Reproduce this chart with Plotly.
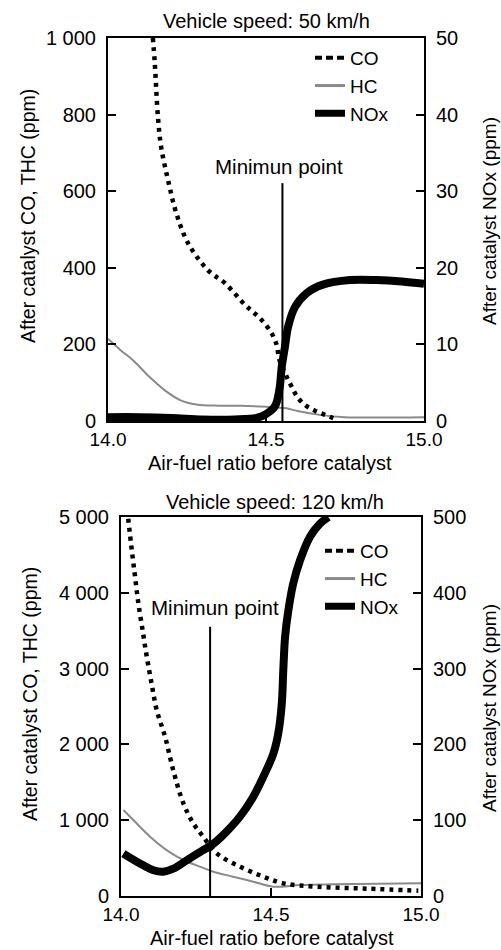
import plotly.graph_objects as go

# ---------------- data: vehicle speed 50 km/h ----------------
co50_afr = [14.142, 14.148, 14.158, 14.168, 14.19, 14.216, 14.253, 14.316, 14.37, 14.434, 14.46,
            14.486, 14.518, 14.534, 14.541, 14.552, 14.565, 14.581, 14.599, 14.623, 14.655, 14.687, 14.72]
co50 = [1000, 935, 794, 716, 629, 543, 465, 394, 360, 303, 284,
        264, 229, 198, 164, 140, 116, 90, 63, 42, 27, 16, 5]

hc50_afr = [14.0, 14.04, 14.08, 14.13, 14.18, 14.23, 14.28, 14.35, 14.42, 14.5, 14.55, 14.565,
            14.6, 14.67, 14.75, 14.85, 15.0]
hc50 = [215, 185, 158, 116, 80, 54, 43, 40, 40, 37, 34, 33, 26, 16, 10, 9, 10]

nox50_afr = [14.0, 14.1, 14.2, 14.3, 14.4, 14.47, 14.5, 14.528, 14.542, 14.55, 14.56, 14.57,
             14.592, 14.629, 14.68, 14.766, 14.85, 14.93, 15.0]
nox50 = [0.5, 0.5, 0.4, 0.2, 0.2, 0.4, 0.9, 1.9, 4.0, 7.1, 9.7, 12.3,
         14.9, 16.7, 17.8, 18.4, 18.4, 18.2, 17.9]

min50_afr = 14.552
min50_top = 621

# ---------------- data: vehicle speed 120 km/h ----------------
co120_afr = [14.024, 14.036, 14.047, 14.058, 14.072, 14.086, 14.102, 14.119, 14.147, 14.174,
             14.208, 14.241, 14.274, 14.319, 14.397, 14.474, 14.541, 14.652, 14.819, 14.991]
co120 = [4978, 4561, 4209, 3858, 3506, 3155, 2803, 2452, 2100, 1661,
         1221, 958, 782, 562, 387, 255, 167, 123, 97, 70]

hc120_afr = [14.008, 14.041, 14.097, 14.152, 14.208, 14.263, 14.308, 14.374, 14.441, 14.508,
             14.597, 14.708, 15.0]
hc120 = [1134, 1002, 782, 606, 475, 387, 321, 255, 189, 123, 145, 154, 167]

nox120_afr = [14.008, 14.063, 14.108, 14.141, 14.174, 14.219, 14.263, 14.308, 14.352, 14.397,
              14.441, 14.474, 14.508, 14.524, 14.536, 14.541, 14.547, 14.558, 14.574, 14.597,
              14.63, 14.663, 14.691]
nox120 = [56, 43, 34, 32, 36, 47, 58, 69, 85, 105,
          131, 157, 188, 214, 254, 298, 342, 377, 412, 443,
          474, 491, 500]

min120_afr = 14.297
min120_top = 3553

x_ticks = [14.0, 14.5, 15.0]
x_ticktext = ["14.0", "14.5", "15.0"]
y50_ticks = [0, 200, 400, 600, 800, 1000]
y50_text = ["0", "200", "400", "600", "800", "1 000"]
y50r_ticks = [0, 10, 20, 30, 40, 50]
y120_ticks = [0, 1000, 2000, 3000, 4000, 5000]
y120_text = ["0", "1 000", "2 000", "3 000", "4 000", "5 000"]
y120r_ticks = [0, 100, 200, 300, 400, 500]

# ---------------- figure ----------------
W, H = 501, 950
FONT = "Liberation Sans, Arial, sans-serif"
TICKSIZE = 20


def px_x(p):
    return p / W


def px_y(p):
    return 1 - p / H


fig = go.Figure()

CO_LINE = dict(color="black", width=4.5, dash="4px,5px")
HC_LINE = dict(color="#8a8a8a", width=2)
NOX_LINE = dict(color="black", width=8)

panels = [
    dict(co=(co50_afr, co50), hc=(hc50_afr, hc50), nox=(nox50_afr, nox50),
         xa="x", ya="y", yr="y2", legend="legend"),
    dict(co=(co120_afr, co120), hc=(hc120_afr, hc120), nox=(nox120_afr, nox120),
         xa="x2", ya="y3", yr="y4", legend="legend2"),
]

for p in panels:
    fig.add_trace(go.Scatter(x=p["hc"][0], y=p["hc"][1], mode="lines", line=HC_LINE,
                             xaxis=p["xa"], yaxis=p["ya"], showlegend=False, line_shape="spline"))
    fig.add_trace(go.Scatter(x=p["nox"][0], y=p["nox"][1], mode="lines", line=NOX_LINE,
                             xaxis=p["xa"], yaxis=p["yr"], showlegend=False, line_shape="spline"))
    fig.add_trace(go.Scatter(x=p["co"][0], y=p["co"][1], mode="lines", line=CO_LINE,
                             xaxis=p["xa"], yaxis=p["ya"], showlegend=False, line_shape="spline"))
    # legend entries
    fig.add_trace(go.Scatter(x=[None], y=[None], mode="lines", name="CO",
                             line=dict(color="black", width=4, dash="7px,4px"),
                             xaxis=p["xa"], yaxis=p["ya"], legend=p["legend"]))
    fig.add_trace(go.Scatter(x=[None], y=[None], mode="lines", name="HC",
                             line=dict(color="#8a8a8a", width=3),
                             xaxis=p["xa"], yaxis=p["ya"], legend=p["legend"]))
    fig.add_trace(go.Scatter(x=[None], y=[None], mode="lines", name="NOx",
                             line=dict(color="black", width=7),
                             xaxis=p["xa"], yaxis=p["ya"], legend=p["legend"]))

# minimum point lines
fig.add_shape(type="line", xref="x", yref="y", x0=min50_afr, x1=min50_afr, y0=0, y1=min50_top,
              line=dict(color="black", width=2))
fig.add_shape(type="line", xref="x2", yref="y3", x0=min120_afr, x1=min120_afr, y0=0, y1=min120_top,
              line=dict(color="black", width=2))

axis_common = dict(showline=True, linecolor="black", linewidth=2, showgrid=False, zeroline=False,
                   automargin=False,
                   ticks="inside", ticklen=8, tickwidth=1.5, tickcolor="black")
yfont = dict(family=FONT, size=TICKSIZE, color="black")
xfont = dict(family=FONT, size=19, color="black")

top_dom_x = [px_x(108), px_x(424)]
top_dom_y = [px_y(421), px_y(38)]
bot_dom_x = [px_x(121), px_x(421)]
bot_dom_y = [px_y(896), px_y(517)]

fig.update_layout(
    template="none",
    width=W, height=H, autosize=False,
    margin=dict(l=0, r=0, t=0, b=0, pad=0),
    paper_bgcolor="white", plot_bgcolor="white",
    font=dict(family=FONT, size=TICKSIZE, color="black"),
    xaxis=dict(domain=top_dom_x, anchor="y", range=[14, 15], tickvals=x_ticks, ticktext=x_ticktext,
               mirror=True, ticklabelstandoff=0, tickfont=xfont, **axis_common),
    yaxis=dict(domain=top_dom_y, anchor="x", range=[0, 1000], tickvals=y50_ticks, ticktext=y50_text,
               ticklabelstandoff=6, tickfont=yfont, **axis_common),
    yaxis2=dict(overlaying="y", side="right", anchor="x", range=[0, 50], tickvals=y50r_ticks,
                ticklabelstandoff=6, tickfont=yfont, **axis_common),
    xaxis2=dict(domain=bot_dom_x, anchor="y3", range=[14, 15], tickvals=x_ticks, ticktext=x_ticktext,
                mirror=True, ticklabelstandoff=0, tickfont=xfont, **axis_common),
    yaxis3=dict(domain=bot_dom_y, anchor="x2", range=[0, 5000], tickvals=y120_ticks, ticktext=y120_text,
                ticklabelstandoff=6, tickfont=yfont, **axis_common),
    yaxis4=dict(overlaying="y3", side="right", anchor="x2", range=[0, 500], tickvals=y120r_ticks,
                ticklabelstandoff=6, tickfont=yfont, **axis_common),
    legend=dict(x=px_x(310), y=px_y(39), xanchor="left", yanchor="top", bgcolor="rgba(0,0,0,0)",
                font=dict(family=FONT, size=19), tracegroupgap=0, itemwidth=30, borderwidth=0),
    legend2=dict(x=px_x(320), y=px_y(532), xanchor="left", yanchor="top", bgcolor="rgba(0,0,0,0)",
                 font=dict(family=FONT, size=19), tracegroupgap=0, itemwidth=30, borderwidth=0),
)

ann = []


def text(s, x, y, size=19, angle=0):
    ann.append(dict(text=s, x=px_x(x), y=px_y(y), xref="paper", yref="paper", showarrow=False,
                    xanchor="center", yanchor="middle", textangle=angle,
                    font=dict(family=FONT, size=size, color="black")))


text("Vehicle speed: 50 km/h", 266, 21, 20)
text("Air-fuel ratio before catalyst", 270, 463, 20)
text("After catalyst CO, THC (ppm)", 28, 216, 19.5, -90)
text("After catalyst NOx (ppm)", 489, 221, 19, -90)
text("Minimun point", 279, 166, 20.5)

text("Vehicle speed: 120 km/h", 275, 502, 20)
text("Air-fuel ratio before catalyst", 272, 938, 20)
text("After catalyst CO, THC (ppm)", 30, 694, 19.5, -90)
text("After catalyst NOx (ppm)", 489, 708, 19, -90)
text("Minimun point", 215, 607, 20.5)

fig.update_layout(annotations=ann)

fig.write_html("out.html")
